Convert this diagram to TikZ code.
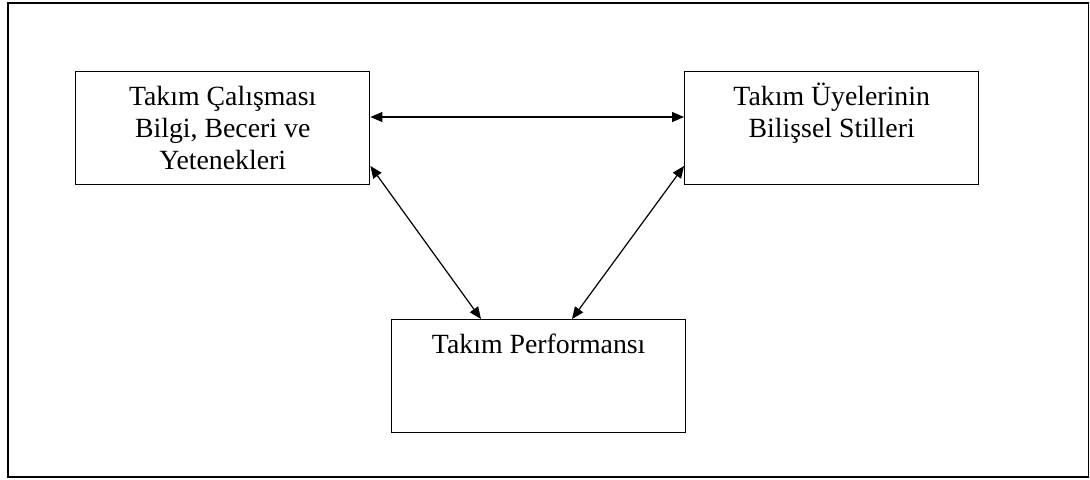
\documentclass[tikz,border=0pt]{standalone}
\usepackage{fontspec}
\setmainfont{Liberation Serif}
\usetikzlibrary{arrows.meta}
\begin{document}
\begin{tikzpicture}[x=0.5pt,y=-0.5pt,
  box/.style={draw,line width=0.7pt,inner sep=0pt,minimum width=147pt,minimum height=56.5pt,anchor=north west},
  link/.style={line width=0.6pt,{Triangle[length=6pt,width=5pt]}-{Triangle[length=6pt,width=5pt]}}]
  \newcommand{\boxtext}[1]{\parbox[c][56.5pt][t]{145pt}{\fontsize{13.9pt}{16pt}\selectfont\centering\vspace*{5.6pt}\strut #1\par}}
  \useasboundingbox (0,0) rectangle (1090,479);
  % outer frame
  \draw[line width=0.75pt] (8,3) rectangle (1088.6,477);
  % the three boxes
  \node[box] (a) at (75,71) {\boxtext{Takım Çalışması\\Bilgi, Beceri ve\\Yetenekleri}};
  \node[box] (b) at (684,71) {\boxtext{Takım Üyelerinin\\Bilişsel Stilleri}};
  \node[box] (c) at (391,319) {\boxtext{Takım Performansı}};
  % reference heights and columns for the connectors
  \coordinate (h) at (0,117);
  \coordinate (d) at (0,166);
  \coordinate (cl) at (481,0);
  \coordinate (cr) at (572,0);
  % connectors
  \draw[link] (a.east |- h) -- (b.west |- h);
  \draw[link] (a.east |- d) -- (c.north -| cl);
  \draw[link] (b.west |- d) -- (c.north -| cr);
\end{tikzpicture}
\end{document}
